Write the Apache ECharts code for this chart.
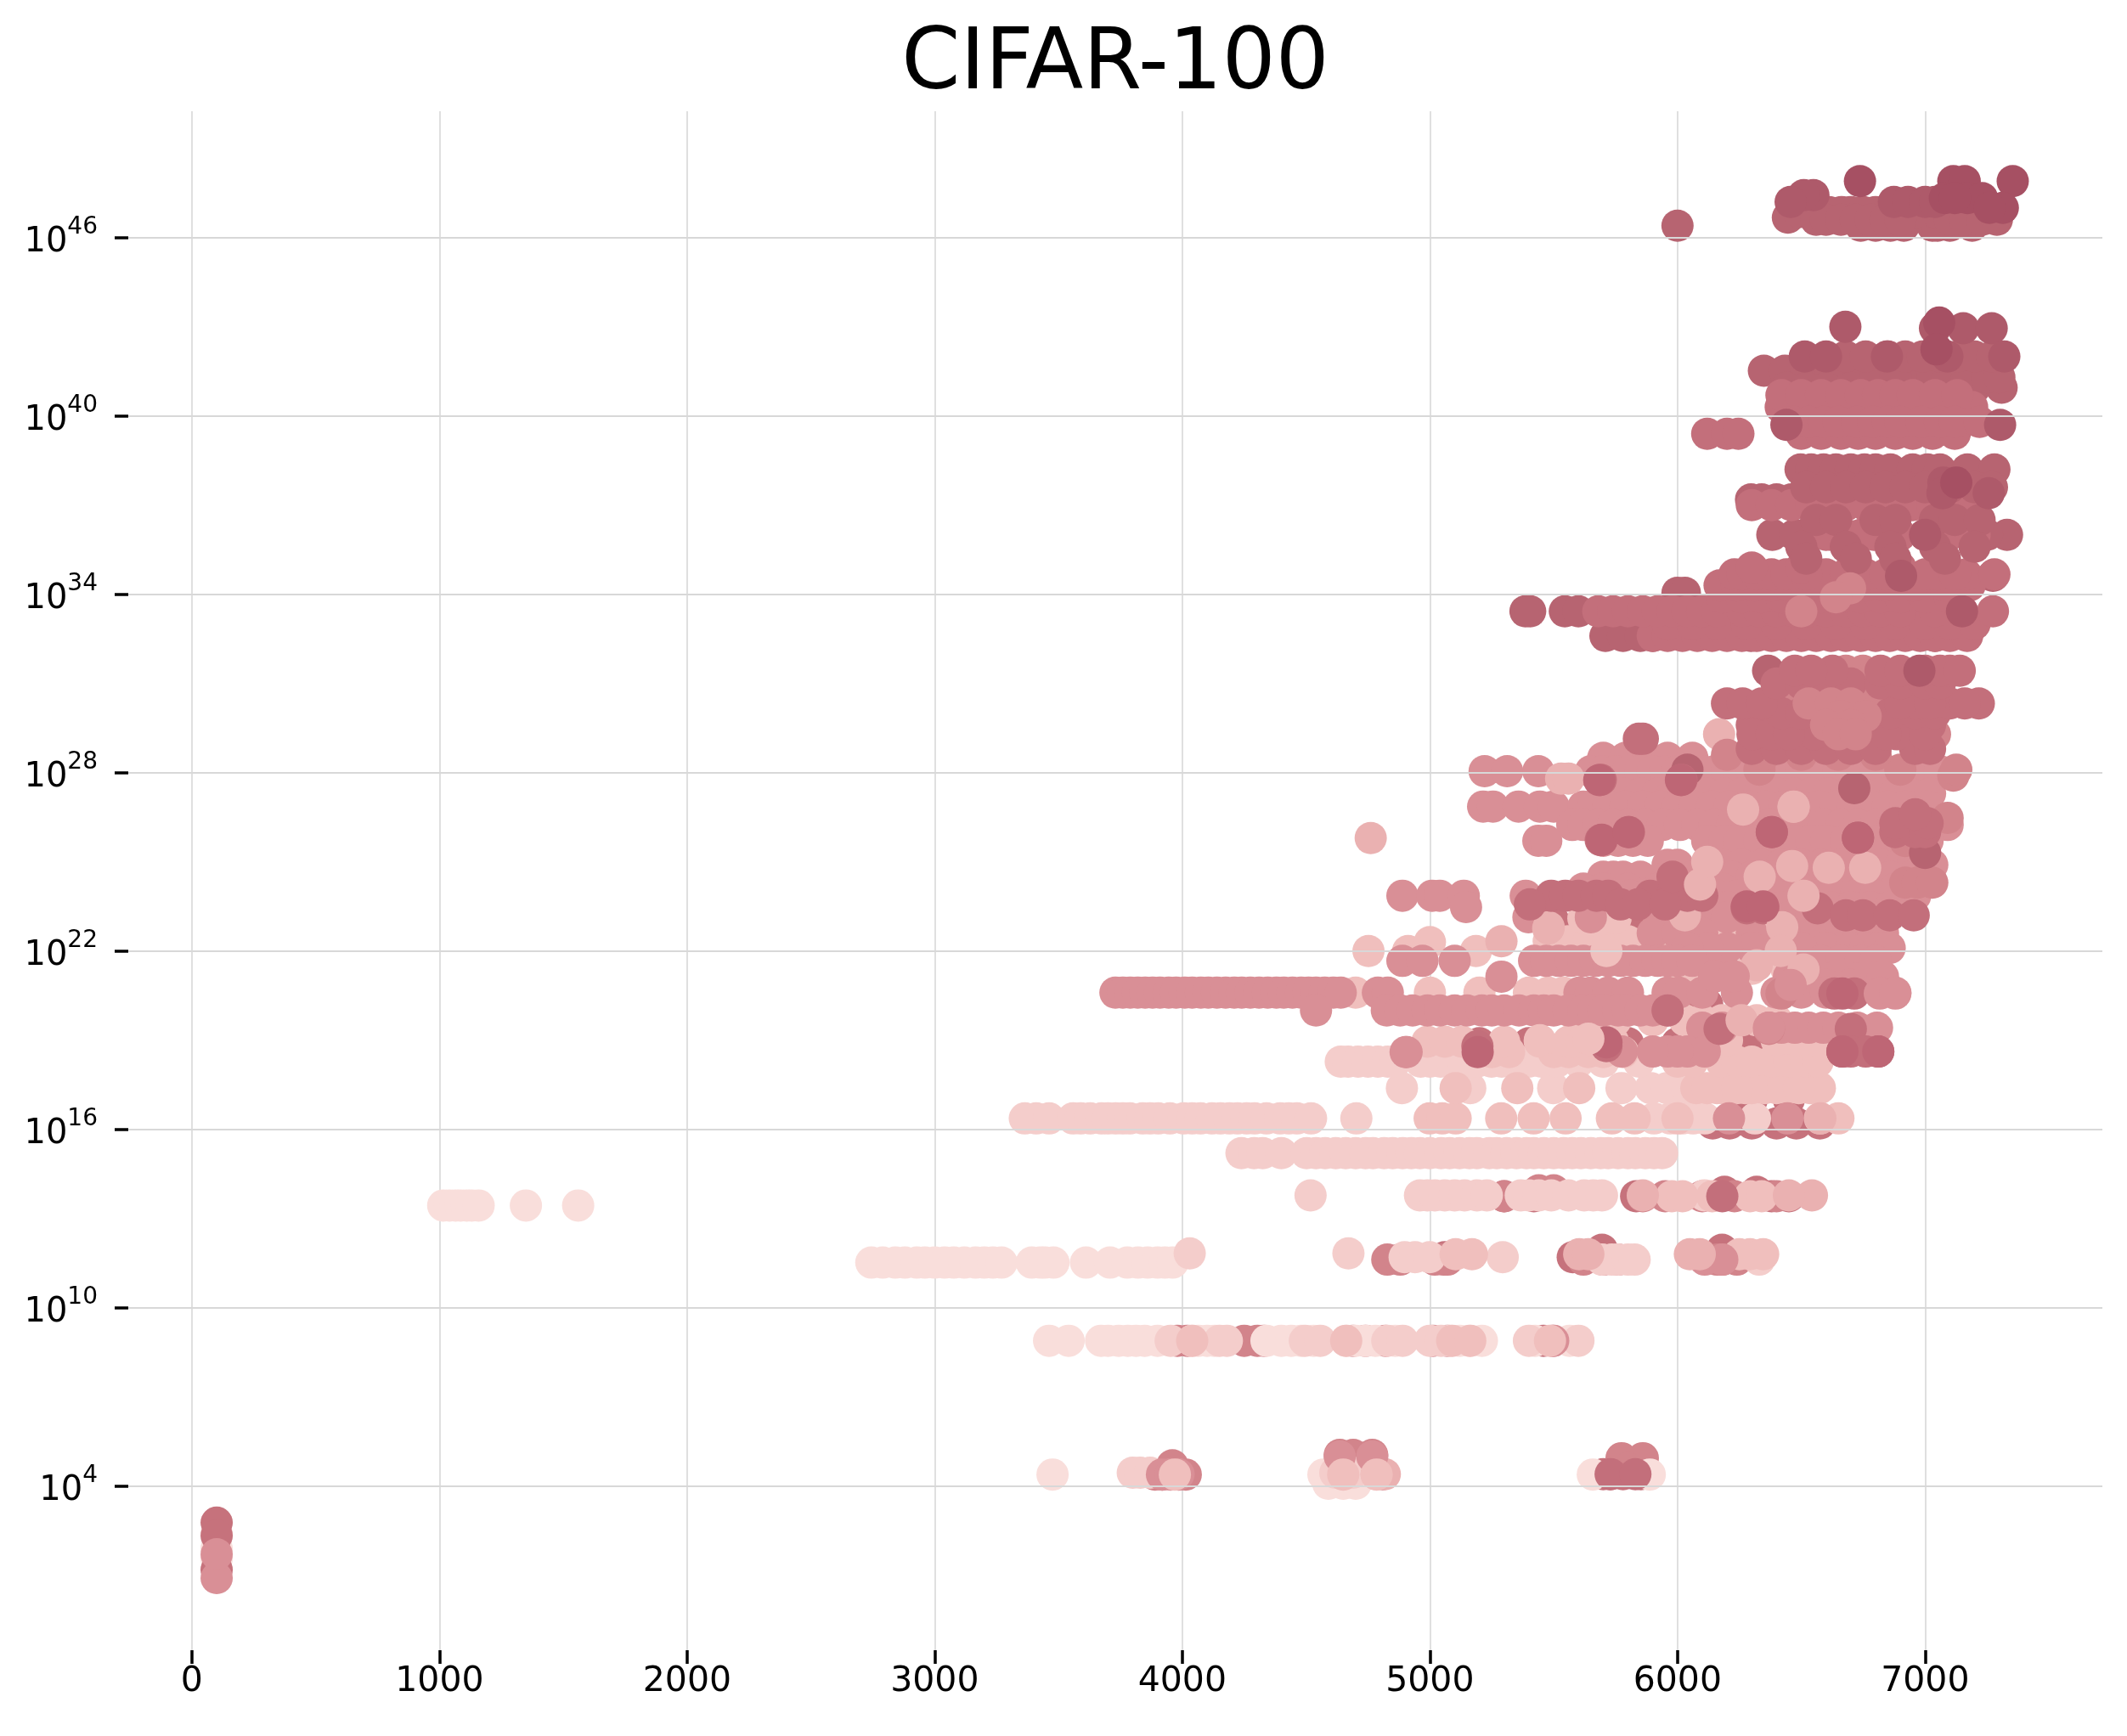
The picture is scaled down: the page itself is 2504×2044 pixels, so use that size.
<!DOCTYPE html>
<html><head><meta charset="utf-8">
<style>html,body{margin:0;padding:0;background:#fff}#c{width:2504px;height:2044px}</style>
<script src="https://cdn.jsdelivr.net/npm/echarts@6/dist/echarts.min.js"></script>
</head><body><div id="c"></div>
<script>
const title = "CIFAR-100";
const xTicks = [0,1000,2000,3000,4000,5000,6000,7000];
const yTickExponents = [4,10,16,22,28,34,40,46];
// Each row: [log10(y), x, x, x ...]. Layers are painted in this order.
const backRose = [
 [4.4,4590,4640,4720,4810,5700,5728,5780,5852],[8.89,5459],
 [11.7,5577,5695,6140,6220,5060],[11.95,5695,6180],[13.75,5300,5420,5833,6380,6450],[13.9,5440,6190,6320],[16.2,6142,6210,6300,6400,6575,6480],
 [17.0,6300,6450],[18.9,5200,5400,5600,5800,6000,6060,6160],[25.3,6260,6350,6500,6620,6800],
 [26.4,6780,6830],[27.3,6700,6760],[19.0,6130,6220,6290],[20.2,6040,6120],[23.0,5500,5620,5780,5900]];
const backMauve = [
 [4.39,3890,3920,3985,4014],[4.7,3960],[4.94,5774,5860],[5.05,4636,4690,4767],[4.6,5800],
 [8.89,3980,4020,4250,4303,4330,4690,4740,4821,5012,5071,5498],[11.62,4828,4880,5020,5056,5071,5620,5700,5760,6160,6181,6240],
 [13.75,5300,5860,5950,6100,6230,6400],[13.95,5440,5500]];
const lightest = [
 [2.4,100],[1.55,100],[1.9,100],
 [13.44,1015,1040,1065,1085,1110,1130,1158,1349,1560],
 [11.52,2744,2790,2841,2880,2928,2960,3000,3040,3077,3120,3165,3200,3235,3270,3392,3427,3445,3480,3611,3708,3778,3821,3860,3900,3930,3961],
 [8.89,3462,3541,3672,3700,3743,3780,3813,3848,3900,4040,4065,4100,4130,4340,4400,4440,4480,4530,4662,4700,4740,4780,4860,5082,5120,5160,5210,5425,5564],
 [4.39,3476,4570,4620,4715,5658,5888],[4.08,4590,4650,4700]];
const pale = [
 [4.45,3800,3830,3870,4618,4650,4690],[8.89,3953,4180,4150,4495,4557,4828,4890,5000,5045,5400,5600],
 [11.83,4030,4671],[11.7,4898,4940,4999,5294],[11.62,5695,5735,5761,5800,5827,6330],
 [13.78,4518,4960,4990,5020,5060,5100,5140,5190,5230,5367,5400,5440,5490,5560,5623,5660,5695,6109],
 [15.2,4239,4290,4325,4400,4502,4540,4577,4620,4660,4700,4740,4770,4815,4850,4890,4925,4960,5000,5045,5080,5120,5160,5190,5240,5270,5310,5350,5390,5420,5460,5500,5540,5575,5610,5650,5690,5720,5760,5800,5830,5870,5905,5938],
 [16.37,3364,3410,3462,3559,3590,3628,3674,3700,3731,3760,3788,3840,3870,3903,3950,4006,4040,4074,4120,4154,4190,4223,4260,4292,4340,4395,4430,4463,4520,4703,5905,5971,6020,6063,6110,6313],
 [17.39,4887,5163,5498,5774,5892,5958,6000,6040,6181],[18.28,4640,4670,4710,4750,4790,4830,4860,4963,5000,5043,5090,5135,5190,5249,5290,5330,5400,5450,5513,5600,5700,5844]];
const blush = [
 [11.8,5170,5104,6293,6346,6250],[13.75,5977,6293,6020,6140,6340],[16.37,4999,5050,5104,5288,5419,5548,5735,5827,6575,6650,6000],
 [17.39,5104,5353,5603,6076,6273,6352,6444,6536,6575,6210,6120,6400,6300,6160,6240,6490],
 [18.28,6000,6060,6177,6240,6300,6380,6450,6520,6566],[18.6,5250,5320,5500,5560,5640,5700,5780],[18.95,4990,5060,5130,5444,5615,5560,5300,5680,5740],
 [19.67,5600,5750,5900,6030,6100,6180,6320,6400],[20.6,4700,5000,5200,5400,5478,5540],[22.33,5480,5560,5640,5720,5800,5880,5960,6030,6090],
 [22.0,4752,4912,5186,5713],[22.3,5000],[23.1,5620,5750,5950,6050,6300],[23.86,5790,5900],[21.4,6300,6440,6180,6030],[22.6,6150,6240,6380],[19.0,6200,6400,6480,6560]];
const rose3 = [
 [25.8,4761],[27.8,5530,5560],[22.76,5478],[22.33,5289],[11.8,5603,5640,6050,6090],[13.78,5860,6543,6450],[16.37,6577],
 [22.8,5480],[23.2,6030],[4.4,4818,4785],[26.85,6469],[29.29,6168]];
const massLow = [
 [28.5,5700,5790,5860,5960,6060],
 [28.05,5221,5312,5438,5650,5700,5750,5800,5850,5900,5950,6000,6050,6100,6150,6200,6250,6300,6350,6400,6450,6500,6550,6600,6650,6700,6750,6800,6850,6900,6950,7000,7060,7120],
 [27.3,5700,5780,5850,5920,5980,6050,6120,6190,6260,6330,6400,6470,6540,6610,6680,6750,6820,6880,6940,7020],
 [26.86,5215,5255,5358,5444,5500,5620,5660,5720,5790,5860,5930,6000,6070,6140,6210,6290,6360,6430,6500,6570,6640,6710,6780,6850,6920,7010],
 [26.24,5575,5620,5680,5740,5800,5870,5940,6010,6080,6150,6220,6300,6370,6440,6510,6590,6660,6730,6800,6870,6940,7091],
 [25.71,5438,5470,5700,5760,5820,5880,6120,6190,6250,6330,6400,6470,6540,6600,6680,6750,6820,6900,6970,7010],
 [24.9,5960,6000,6180,6260,6340,6420,6500,6580,6660,6740,6820,6900,6950,7029],
 [24.5,5741,5700,5780,5850,5960,6060,6140,6220,6300,6380,6460,6540,6620,6700,6780,6860,6940,7000],
 [24.1,5620,5700,5800,5920,6060,6180,6380,6500,6640,6760,6880,6960],
 [23.86,4889,5009,5040,5137,5387,5810,6160,6240,6400,6480,6560,6640,6720,6800,6880,6960],
 [23.48,5146,6100,6200,6420,6500,6620,6700,6780,6860,6940],[23.14,5398,5650,5925,6000,6080,6200,6450,6540,6620,6700,6780],
 [22.6,5900,6000,6100,6300,6450,6560,6660,6760,6830],
 [22.1,6669,6600,6700,6760,6810,6857,6500,6400,6300,6200,6120,6040],[21.67,4889,4970,5100,5421,5470,5520,5570,5620,5670,5720,5770,5820,5870,5920,5960,6000,6060,6580,6660,6740,6800],
 [21.14,5289,6149,6223,6577,6450,6680,6760,6830,6640],[20.86,6457,6600,6700],[20.6,3730,3760,3790,3820,3850,3880,3910,3945,3975,4010,4040,4075,4105,4140,4175,4210,4240,4275,4310,4345,4380,4410,4445,4480,4510,4540,4575,4610,4640,4790,4830,5604,5650,5720,5800,5960,6005,6100,6240,6400,6500,6600,6817,6880],
 [20.0,4826,4880,4930,4990,5040,5100,5150,5210,5250,5300,5360,5420,5460,5500,5560,5620,5660,5700,5760,5800,5850,5900,5960,4540],
 [19.42,6474,6530,6589,6650,6726,6806,6369,6100,6180,6420],[18.62,5960,6040,6110,6000,5775,5900],[18.6,4902,4906],[16.37,6208,6444],[4.39,3918,3953],[0.91,100],[1.71,100],[11.62,6110,6181],[8.89,5498]];
const midRose = [
 [26.48,7091],[27.9,7114],[25.7,6920],[24.3,6920,6970,7029],[20.57,6420],[19.38,6369],[28.1,6331,7126,6900],[29.29,7040],
 [34.2,6697,6640,6760],[34.1,6623],[31.43,6749,6680],[30.67,6817,6700,6760],[30.33,6474,6663,6560,6600,6730,6800],[29.9,6600,6700,6900,6800],[29.2,6500,6600,6700,6950,6420,6780],[28.6,6200,6350,6500,6650,6800]];
const roseA0 = [[2.77,100],[2.34,100],[1.19,100]];
const roseA = [
 [4.4,5730,5830],
 [27.76,5690,6016],[26.0,5804,6381,6880,6960,7000],[25.73,5690],[26.3,6880,7010],[26.6,6960],
 [23.86,5490,5547,5600,5673,5720,5890,5976,6040,6100],[23.57,5404,5770,5840,5950],[24.5,5980],[23.44,6280,6346,6566],
 [23.2,6680,6749,6857,6954],[19.38,6170,6700],[20.57,6634,6714],[18.62,6666,6811,6700,6760],[18.8,5192,5713],[13.75,6181],[20.0,5960],
 [29.14,5844,5860],
 [29.6,6300,6380,6440,6500,6560,6640,6700,6760,6830,6900,6960,7020],
 [28.8,6300,6400,6500,6600,6700,6800,6960,7020],[29.29,6303,6380,6550,6886,6840,6450,6640,6720,7000],[30.0,6420,6500,6620,6860,6960,7040],[30.33,6200,6263,6340,7217,7100,6960,6900,7020,7160],[31.0,6400,6500,6600,6700,6820,6900,7000,7060],[31.43,6474,6626,7100,6540,6820,6900,7000,7060,7140],
 [32.6,5900,5960,6020,6080,6140,6200,6260,6320,6380,6440,6500,6560,6620,6680,6740,6800,6857,6920,6980,7040,7100,7170],[33.0,5960,6060,6160,6280,6400,6520,6640,6760,6880,7000,7100,7200],[33.43,5680,5740,5800,5860,5920,5980,6040,6100,6160,6263,6330,6400,6470,6530,6600,6680,6750,6820,6900,7040,7150,7274],[33.9,6180,6260,6340,6420,6500,6580,6660,6740,6820,6900,7000,7100],[34.3,6170,6240,6310,6380,6450,6520,6600,6680,6760,6840,6950,7080,7180],[34.67,6230,6263,6320,6380,6440,6600,7050,7166,6520,6680,6760,6840,6920,7000,7120,7280],[34.9,6300,6500,6900],[36.0,6600,6794,6900,7097,7200,6680,6740,7000],
 [37.0,6300,6380,6460,6540,6600,6680,6760,6840,6950,7030,7110,7200],[39.4,6120,6200,6246,6500,6580,6660,6730,6800,6880,6950,7030,7120],[40.3,6417,6480,6531,6590,6640,6690,6750,6800,6870,6930,6985,7103,7060,7020,7190],[40.7,6420,6500,6580,6660,6740,6810,6880,6950,7040,7130],[39.8,6470,6530,6590,6650,6725,6790,6850,6900,6985,7060,7120,7220]];
const deepRose = [
 [46.4,6000,6740,6800,6860,6914,7030,7100,7190,7050],[46.67,6446],[46.86,6491,6663,6611,6700,6750,6800,6850,6914,7040,7160,7274,7200,6960],[46.6,6560,6600,6660,6720,6780,6840,6900,7100,7160,7230,7290],
 [41.52,6349,6434,6520,6620,6723,6780,6880,6960,7130,6670,7040],[40.95,6440,6520,6600,6700,6870,6980,7100,7200,7309],[41.3,6960,7030,7090,7170,7250,6800,6880,7300],[42.0,6850,6920,6990,7060,7130,7200,7270,6680,6760],
 [38.2,6497,6540,6590,6640,6700,6755,6800,6860,6950,7010,7060,7171,7280],[37.19,6297,6340,6400,6514,6600,6737,7000,7100,6460,6680,6800],
 [36.0,6383,6474,6623,7331,7250,7180],[34.62,7274],[33.43,6097,6970,5386,5405,5545,5600],[32.6,5709,5780,6297,7040,5900,5850],[34.05,6000,6030],[31.43,6366],[28.1,6040],[27.48,6714],[25.81,6729],[25.3,7000],[30.33,6600]];
const deepRoseFront = [
 [37.6,6520,6600,6680,6760,6840,6920,7000,7100,7200,7270],[36.5,6560,6640,6800,6880,7040,7120,7220],[35.6,6500,6680,6860,7040,7200],[35.2,6520,6720,6880,7080]];
const accentMid = [[30.33,6530,6620,6700],[29.9,6660,6760],[29.6,6600,6700],[29.29,6650,6720],[34.2,6697],[33.9,6640],[33.43,6500]];
const darkMid = [
 [47.43,6549,6510],[47.2,6457,6874,6931,7000,7040],[43.0,6678],[42.95,7154,7269,7040],[42.0,6514,6600,6846,7320,7090],
 [39.7,6440,7303],[37.76,7074],[37.4,7257,7070],[36.0,7000],[34.62,6903],[33.43,7149],[31.43,6977]];
const darkTop = [[47.9,6737,7114,7160,7354],[47.33,7171,7080,7230,7120],[47.0,7314,7260],[43.14,7057],[42.24,7046],[37.76,7126]];
const frontAccent = [
 [26.76,6265],[26.86,6469],[24.86,6463],[24.8,6611],[24.8,6758],[24.24,6091],[23.86,6509],[22.8,6423],[24.5,6332],[22.0,6417],[21.38,6509],[21.52,6320],[19.67,6259],[25.0,6120]];
const frontRose = [[26.0,6381],[25.81,6729],[25.74,5694],[23.5,6280,6346],[26.0,5802],[20.57,6666],[18.62,6666,6811],[18.6,5193],[18.93,5713],[27.75,6014,5684]];
const frontMauve = [[20.57,6817,6880],[19.42,6369],[21.15,6148,6227],[20.86,6457],[4.4,3953,3985],[5.0,4636,4767]];
const frontBlush = [[18.93,5615],[19.0,5444],[22.0,5713],[19.05,5640],[8.89,5090,5163,5485,4040,4662],[4.39,3970,4785,4650]];

const layers = [
 [backRose,'#C6727C'],[backMauve,'#D2848B'],[lightest,'#F9DEDB'],[pale,'#F4CDCB'],[blush,'#F0BFBD'],
 [roseA0,'#C6727C'],[massLow,'#D98F96'],[rose3,'#EAB1B1'],[midRose,'#D2848B'],[deepRose,'#B76471'],[roseA,'#C36F7B'],[deepRoseFront,'#B76471'],[accentMid,'#D2848B'],
 [darkMid,'#AE5A6A'],[darkTop,'#A65063'],[frontAccent,'#EAB1B1'],[frontRose,'#BE6675'],[frontMauve,'#D98F96'],[frontBlush,'#F0BFBD']
];
function expand(rows){const out=[];rows.forEach(r=>{for(let i=1;i<r.length;i++)out.push([r[i],Math.pow(10,r[0])]);});return out;}
const chart = echarts.init(document.getElementById('c'),null,{renderer:'canvas'});
const FONT='"DejaVu Sans"';
chart.setOption({
 animation:false,backgroundColor:'#fff',
 title:{text:title,left:1308,textAlign:'center',top:24,textStyle:{fontFamily:FONT,fontSize:99,fontWeight:'normal',color:'#000'}},
 grid:{left:151,right:29,top:131,bottom:101,containLabel:false},
 xAxis:{type:'value',min:-257,max:7716,interval:1000,z:0,
  axisLine:{show:false,onZero:false},axisTick:{show:true,length:16,lineStyle:{color:'#000',width:3.5},customValues:xTicks},
  axisLabel:{fontFamily:FONT,fontSize:41,color:'#000',margin:17,customValues:xTicks,formatter:v=>String(v)},
  splitLine:{show:true,lineStyle:{color:'#d8d8d8',width:1.6}}},
 yAxis:{type:'log',logBase:10,min:Math.pow(10,-1.52),max:Math.pow(10,50.25),z:5,
  axisLine:{show:false,onZero:false},axisTick:{show:true,length:16,lineStyle:{color:'#000',width:3.5},customValues:yTickExponents.map(e=>Math.pow(10,e))},
  axisLabel:{customValues:yTickExponents.map(e=>Math.pow(10,e)),margin:36,
   formatter:v=>{const e=Math.round(Math.log10(v));return '{b|10}{s|'+e+'}';},
   rich:{b:{fontFamily:FONT,fontSize:40,color:'#000',verticalAlign:'bottom',lineHeight:52},s:{fontFamily:FONT,fontSize:28,color:'#000',verticalAlign:'top',lineHeight:52}}},
  splitLine:{show:true,lineStyle:{color:'#d8d8d8',width:2}}},
 series:layers.map((l,i)=>({type:'scatter',name:'layer'+i,z:2,data:expand(l[0]),symbol:'circle',symbolSize:38,silent:true,itemStyle:{color:l[1],opacity:1},emphasis:{disabled:true},clip:false}))
});
</script></body></html>
